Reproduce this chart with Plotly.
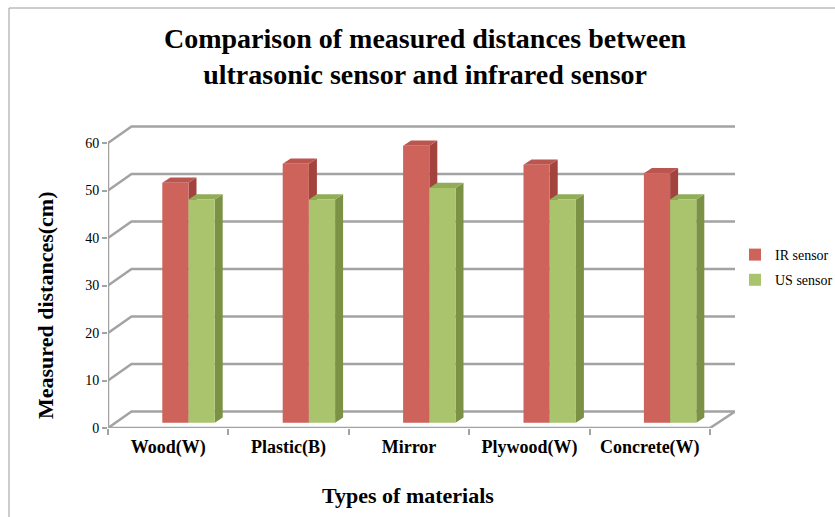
import plotly.graph_objects as go

# ---------------- data ----------------
categories = ["Wood(W)", "Plastic(B)", "Mirror", "Plywood(W)", "Concrete(W)"]
ir_values = [50.5, 54.5, 58.3, 54.3, 52.5]
us_values = [47.0, 47.0, 49.4, 47.0, 47.0]
y_ticks = [0, 10, 20, 30, 40, 50, 60]
series_names = ["IR sensor", "US sensor"]

# ---------------- geometry / style constants ----------------
W, H = 835, 517
L_PX, R_PX, T_PX, B_PX = 108, 735, 110, 428
PX_PER_CAT = 120.4
PX_PER_UNIT = 4.75
x_range = [-0.5, -0.5 + (R_PX - L_PX) / PX_PER_CAT]
y_range = [0, (B_PX - T_PX) / PX_PER_UNIT]
px_w = R_PX - L_PX
px_h = B_PX - T_PX

def px_to_paper_x(px):
    return (px - L_PX) / px_w

def px_to_paper_y(py):
    return (B_PX - py) / px_h

wall_dx = 23.5 / PX_PER_CAT          # depth of the floor / back wall
wall_dy = 16.5 / PX_PER_UNIT
bar_lift = 5.3 / PX_PER_UNIT          # bars sit a bit behind the front edge
bar_w = 26.2 / PX_PER_CAT
ir_off = -0.049
us_off = ir_off + bar_w
bd_x = 8.0 / PX_PER_CAT               # bar depth
bd_y = 5.3 / PX_PER_UNIT

GRID = "#A3A3A3"
FONT = "Liberation Serif"
IR_FRONT, IR_SIDE, IR_TOP = "#CD635B", "#A2433E", "#BB554F"
US_FRONT, US_SIDE, US_TOP = "#A9C46C", "#7B9146", "#92AD58"

x_idx = list(range(len(categories)))

fig = go.Figure()
fig.add_trace(go.Bar(
    x=x_idx, y=ir_values, base=bar_lift, name=series_names[0], legendgroup="ir",
    offset=ir_off, width=bar_w, marker=dict(color=IR_FRONT, line=dict(width=0)),
))
fig.add_trace(go.Bar(
    x=x_idx, y=us_values, base=bar_lift, name=series_names[1], legendgroup="us",
    offset=us_off, width=bar_w, marker=dict(color=US_FRONT, line=dict(width=0)),
))

shapes = []
# back wall grid lines + left wall diagonals
for v in y_ticks:
    shapes.append(dict(type="path", xref="x", yref="y", layer="below",
                       path=f"M {x_range[0]},{v} L {x_range[0] + wall_dx},{v + wall_dy} L {x_range[1]},{v + wall_dy}",
                       line=dict(color=GRID, width=2.5)))
# floor right diagonal
shapes.append(dict(type="line", xref="x", yref="y", layer="above",
                   x0=len(categories) - 0.5, y0=0, x1=x_range[1], y1=wall_dy,
                   line=dict(color=GRID, width=2.5)))
# front axes
shapes.append(dict(type="line", xref="x", yref="y", layer="above",
                   x0=-0.5, y0=0, x1=len(categories) - 0.5, y1=0,
                   line=dict(color=GRID, width=2.5)))
shapes.append(dict(type="line", xref="x", yref="y", layer="above",
                   x0=-0.5, y0=0, x1=-0.5, y1=y_ticks[-1],
                   line=dict(color=GRID, width=2.5)))

# 3D faces of the bars
for vals, off, side, top in [(ir_values, ir_off, IR_SIDE, IR_TOP), (us_values, us_off, US_SIDE, US_TOP)]:
    for i, v in zip(x_idx, vals):
        x0 = i + off
        x1 = x0 + bar_w
        b0 = bar_lift
        b1 = bar_lift + v
        shapes.append(dict(type="path", xref="x", yref="y", layer="between",
                           path=f"M {x1},{b0} L {x1},{b1} L {x1 + bd_x},{b1 + bd_y} L {x1 + bd_x},{b0 + bd_y} Z",
                           fillcolor=side, line=dict(width=0)))
        shapes.append(dict(type="path", xref="x", yref="y", layer="between",
                           path=f"M {x0},{b1} L {x1},{b1} L {x1 + bd_x},{b1 + bd_y} L {x0 + bd_x},{b1 + bd_y} Z",
                           fillcolor=top, line=dict(width=0)))

# outer chart border (partly cut by the picture edge)
shapes.append(dict(type="rect", xref="paper", yref="paper", layer="above",
                   x0=px_to_paper_x(9), x1=px_to_paper_x(W + 20),
                   y0=px_to_paper_y(H + 20), y1=px_to_paper_y(8),
                   line=dict(color="#9A9A9A", width=1), fillcolor="rgba(0,0,0,0)"))

annotations = [
    dict(text="Comparison of measured distances between<br>ultrasonic sensor and infrared sensor",
         xref="paper", yref="paper", x=px_to_paper_x(425), y=px_to_paper_y(57),
         xanchor="center", yanchor="middle", showarrow=False,
         font=dict(family=FONT, size=28, color="black", weight="bold")),
    dict(text="Measured distances(cm)", textangle=-90,
         xref="paper", yref="paper", x=px_to_paper_x(45), y=px_to_paper_y(305),
         xanchor="center", yanchor="middle", showarrow=False,
         font=dict(family=FONT, size=22, color="black", weight="bold")),
    dict(text="Types of materials",
         xref="paper", yref="paper", x=px_to_paper_x(408), y=px_to_paper_y(495),
         xanchor="center", yanchor="middle", showarrow=False,
         font=dict(family=FONT, size=22, color="black", weight="bold")),
]

fig.update_layout(
    width=W, height=H,
    margin=dict(l=L_PX, r=W - R_PX, t=T_PX, b=H - B_PX, autoexpand=False),
    paper_bgcolor="white", plot_bgcolor="white",
    barmode="overlay",
    font=dict(family=FONT, color="black"),
    xaxis=dict(
        range=x_range, tickmode="array", tickvals=x_idx, ticktext=categories,
        ticks="", showgrid=False, zeroline=False, showline=False,
        tickfont=dict(family=FONT, size=18, color="black", weight="bold"),
        ticklabelstandoff=6,
        minor=dict(tickmode="array", tickvals=[i - 0.5 for i in range(len(categories) + 1)],
                   ticks="outside", ticklen=6, tickcolor=GRID, tickwidth=2, showgrid=False),
    ),
    yaxis=dict(
        range=y_range, tickmode="array", tickvals=y_ticks,
        ticks="outside", ticklen=5, tickcolor=GRID, tickwidth=2,
        showgrid=False, zeroline=False, showline=False,
        tickfont=dict(family=FONT, size=14, color="black"),
    ),
    legend=dict(
        x=px_to_paper_x(735), y=px_to_paper_y(239), xanchor="left", yanchor="top",
        font=dict(family=FONT, size=14, color="black"),
        bgcolor="rgba(0,0,0,0)", tracegroupgap=4, itemwidth=30, traceorder="grouped",
    ),
    showlegend=True,
    shapes=shapes,
    annotations=annotations,
)

fig.write_html("out.html")
